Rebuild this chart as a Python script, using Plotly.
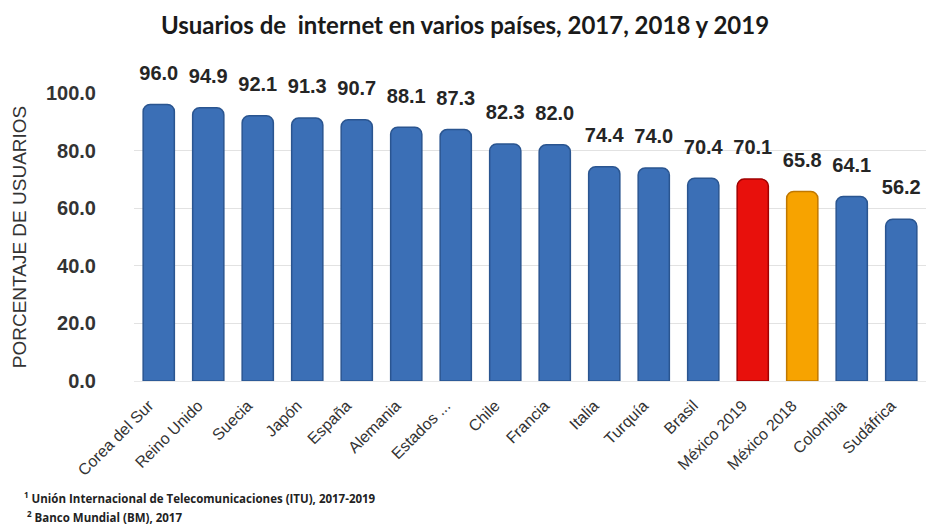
import plotly.graph_objects as go

countries = ["Corea del Sur", "Reino Unido", "Suecia", "Japón", "España", "Alemania",
             "Estados ...", "Chile", "Francia", "Italia", "Turquía", "Brasil",
             "México 2019", "México 2018", "Colombia", "Sudáfrica"]
values = [96.0, 94.9, 92.1, 91.3, 90.7, 88.1, 87.3, 82.3, 82.0, 74.4, 74.0, 70.4,
          70.1, 65.8, 64.1, 56.2]
bar_colors = ["#3b6fb6"] * 12 + ["#e8100c", "#f7a300"] + ["#3b6fb6"] * 2
line_colors = ["#2a5590"] * 12 + ["#a00000", "#c07800"] + ["#2a5590"] * 2
y_ticks = [0, 20, 40, 60, 80, 100]

fig = go.Figure()
fig.add_trace(go.Bar(
    x=countries, y=values,
    marker=dict(color=bar_colors, line=dict(color=line_colors, width=1.5), cornerradius=7),
    width=0.63, hoverinfo="x+y",
))
fig.add_trace(go.Scatter(
    x=countries, y=values, mode="markers+text",
    marker=dict(size=30, opacity=0),
    text=[f"<b>{v:.1f}</b>" for v in values], textposition="top center",
    textfont=dict(family="Liberation Sans, Arial", size=20, color="#252525"),
    cliponaxis=False, hoverinfo="skip",
))

fig.update_layout(
    width=930, height=527,
    margin=dict(l=134, r=4, t=93, b=146),
    paper_bgcolor="white", plot_bgcolor="white",
    showlegend=False,
    title=dict(text="<b>Usuarios de  internet en varios países, 2017, 2018 y 2019</b>",
               x=0.5, xanchor="center", y=1 - 26 / 527, yanchor="middle",
               font=dict(family="Lato", size=24, color="#1a1a1a")),
    font=dict(family="Liberation Sans, Arial"),
)
fig.update_yaxes(
    range=[0, 100], tickvals=y_ticks, ticktext=[f"<b>{t:.1f}</b>" for t in y_ticks],
    tickfont=dict(size=20, color="#333333", family="Liberation Sans, Arial"),
    showgrid=True, gridcolor="#e2e2e2", gridwidth=1, zeroline=False,
    showline=False, ticklabelstandoff=37,
    title=dict(text="PORCENTAJE DE USUARIOS", standoff=14,
               font=dict(size=19, color="#333333", family="Liberation Sans, Arial")),
)
fig.update_xaxes(
    range=[-0.5, 15.5],
    tickangle=-45, tickfont=dict(size=16, color="#333333", family="Liberation Sans, Arial"),
    ticklabelshift=-10, ticklabelstandoff=8,
    showgrid=False, showline=True, linecolor="#e8e8e8",
)

fig.add_annotation(text="<b><sup>1</sup> Unión Internacional de Telecomunicaciones (ITU), 2017-2019</b>",
                   xref="paper", yref="paper", x=-112/792, y=-116/288, xanchor="left", yanchor="middle",
                   showarrow=False, font=dict(size=11.5, color="#222222", family="Open Sans"))
fig.add_annotation(text="<b><sup>2</sup> Banco Mundial (BM), 2017</b>",
                   xref="paper", yref="paper", x=-109/792, y=-135/288, xanchor="left", yanchor="middle",
                   showarrow=False, font=dict(size=11.5, color="#222222", family="Open Sans"))

fig.write_html("out.html")
